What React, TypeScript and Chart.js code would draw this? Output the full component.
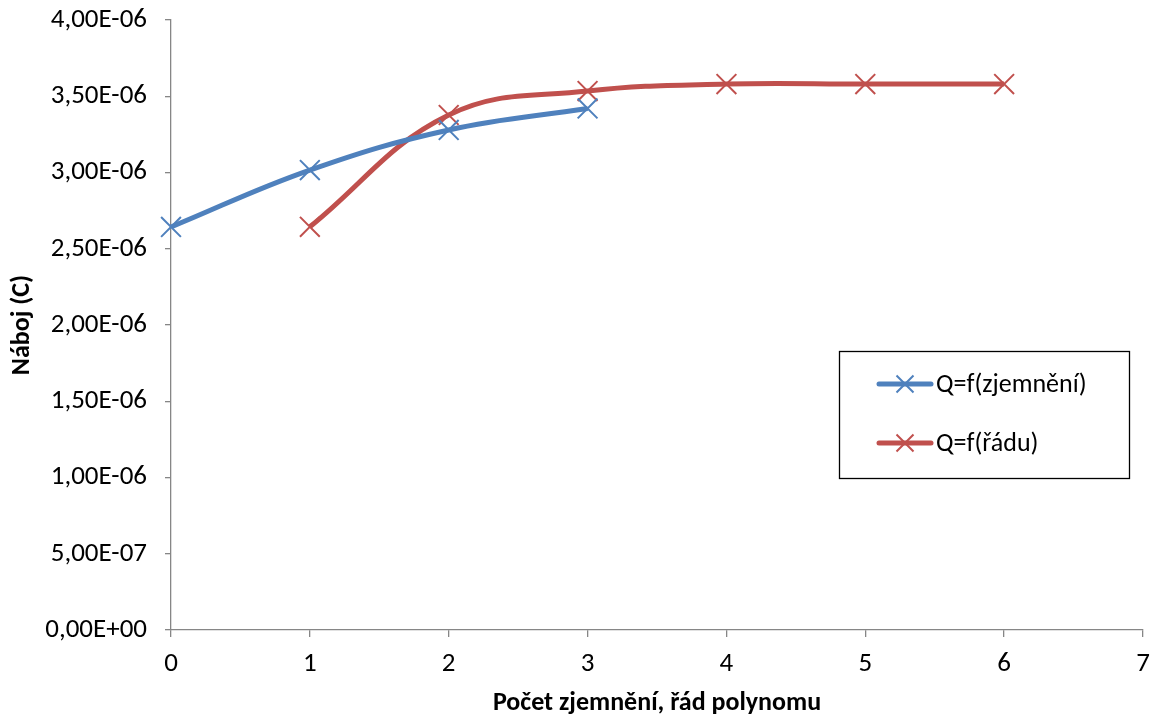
import React, { useEffect, useRef } from "react";
import { Chart, registerables } from "chart.js";

Chart.register(...registerables);

// Charge vs. refinement count / polynomial order
const refineSteps = [0, 1, 2, 3];
const chargeByRefine = [2.643e-6, 3.016e-6, 3.279e-6, 3.42e-6];
const orderSteps = [1, 2, 3, 4, 5, 6];
const chargeByOrder = [2.644e-6, 3.377e-6, 3.534e-6, 3.58e-6, 3.58e-6, 3.58e-6];
const seriesLabels = ["Q=f(zjemnění)", "Q=f(řádu)"];
const seriesColors = ["#4F81BD", "#C0504D"];
const xTitle = "Počet zjemnění, řád polynomu";
const yTitle = "Náboj (C)";

const FONT = "Carlito, Lato, 'Open Sans', sans-serif";
const TICK_SIZE = 27;
const TITLE_SIZE = 26;

// Excel-like scientific notation with a decimal comma: 3,50E-06
function sciLabel(v: number): string {
  if (v === 0) return "0,00E+00";
  const [m, e] = v.toExponential(2).split("e");
  const exp = parseInt(e, 10);
  const sign = exp < 0 ? "-" : "+";
  const digits = String(Math.abs(exp)).padStart(2, "0");
  return m.replace(".", ",") + "E" + sign + digits;
}

// Framed legend drawn inside the plot area
const boxLegend = {
  id: "boxLegend",
  afterDraw(chart: any) {
    const ctx = chart.ctx as CanvasRenderingContext2D;
    const x0 = 839, y0 = 351, w = 290, h = 127;
    ctx.save();
    ctx.strokeStyle = "#000";
    ctx.lineWidth = 1.3;
    ctx.strokeRect(x0 + 0.5, y0 + 0.5, w, h);
    const rows = [384, 443];
    chart.data.datasets.forEach((ds: any, i: number) => {
      const y = rows[i];
      ctx.strokeStyle = ds.borderColor;
      ctx.lineWidth = 5;
      ctx.lineCap = "round";
      ctx.beginPath();
      ctx.moveTo(879, y);
      ctx.lineTo(931, y);
      ctx.stroke();
      ctx.lineWidth = 2;
      ctx.lineCap = "butt";
      const cx = 905, r = 8.5;
      ctx.beginPath();
      ctx.moveTo(cx - r, y - r);
      ctx.lineTo(cx + r, y + r);
      ctx.moveTo(cx - r, y + r);
      ctx.lineTo(cx + r, y - r);
      ctx.stroke();
      ctx.fillStyle = "#000";
      ctx.font = `26px ${FONT}`;
      ctx.textBaseline = "middle";
      ctx.textAlign = "left";
      ctx.fillText(ds.label, 936, y + 1);
    });
    ctx.restore();
  },
};

export default function App() {
  const ref = useRef<HTMLCanvasElement | null>(null);

  useEffect(() => {
    if (!ref.current) return;
    const chart = new Chart(ref.current, {
      type: "line",
      data: {
        datasets: [
          {
            label: seriesLabels[0],
            data: refineSteps.map((x, i) => ({ x, y: chargeByRefine[i] })),
            borderColor: seriesColors[0],
            backgroundColor: seriesColors[0],
          },
          {
            label: seriesLabels[1],
            data: orderSteps.map((x, i) => ({ x, y: chargeByOrder[i] })),
            borderColor: seriesColors[1],
            backgroundColor: seriesColors[1],
          },
        ].map((d) => ({
          ...d,
          borderWidth: 5,
          tension: 0.4,
          pointStyle: "crossRot",
          pointRadius: 14,
          pointBorderWidth: 2,
          pointHoverRadius: 14,
          fill: false,
          clip: false,
        })),
      },
      options: {
        animation: false,
        responsive: false,
        layout: { padding: { top: 20, right: 9, bottom: 0, left: 0 } },
        plugins: { legend: { display: false }, tooltip: { enabled: false } },
        scales: {
          x: {
            type: "linear",
            min: 0,
            max: 7,
            afterFit: (s: any) => {
              s.height = 90;
              s.paddingLeft = 0;
              s.paddingRight = 0;
            },
            ticks: { stepSize: 1, color: "#000", padding: 11, font: { family: FONT, size: TICK_SIZE } },
            grid: { display: true, drawOnChartArea: false, tickLength: 7, color: "#868686", lineWidth: 1.3 },
            border: { color: "#868686", width: 1.3 },
            title: {
              display: true,
              text: xTitle,
              color: "#000",
              font: { family: FONT, size: TITLE_SIZE, weight: "bold" },
              padding: { top: 0, bottom: 1 },
            },
          },
          y: {
            min: 0,
            max: 4e-6,
            afterFit: (s: any) => {
              s.width = 171;
              s.paddingTop = 0;
              s.paddingBottom = 0;
            },
            ticks: {
              stepSize: 5e-7,
              color: "#000",
              padding: 18,
              font: { family: FONT, size: TICK_SIZE },
              callback: (v: any) => sciLabel(Number(v)),
            },
            grid: { display: true, drawOnChartArea: false, tickLength: 6, color: "#868686", lineWidth: 1.3 },
            border: { color: "#868686", width: 1.3 },
            title: {
              display: true,
              text: yTitle,
              color: "#000",
              font: { family: FONT, size: TITLE_SIZE, weight: "bold" },
              padding: { top: 7, bottom: 0 },
            },
          },
        },
      },
      plugins: [boxLegend],
    });
    return () => chart.destroy();
  }, []);

  return (
    <div style={{ position: "fixed", left: 0, top: 0, width: 1159, height: 720, background: "#fff" }}>
      <canvas ref={ref} width={1159} height={720} style={{ display: "block" }} />
    </div>
  );
}
